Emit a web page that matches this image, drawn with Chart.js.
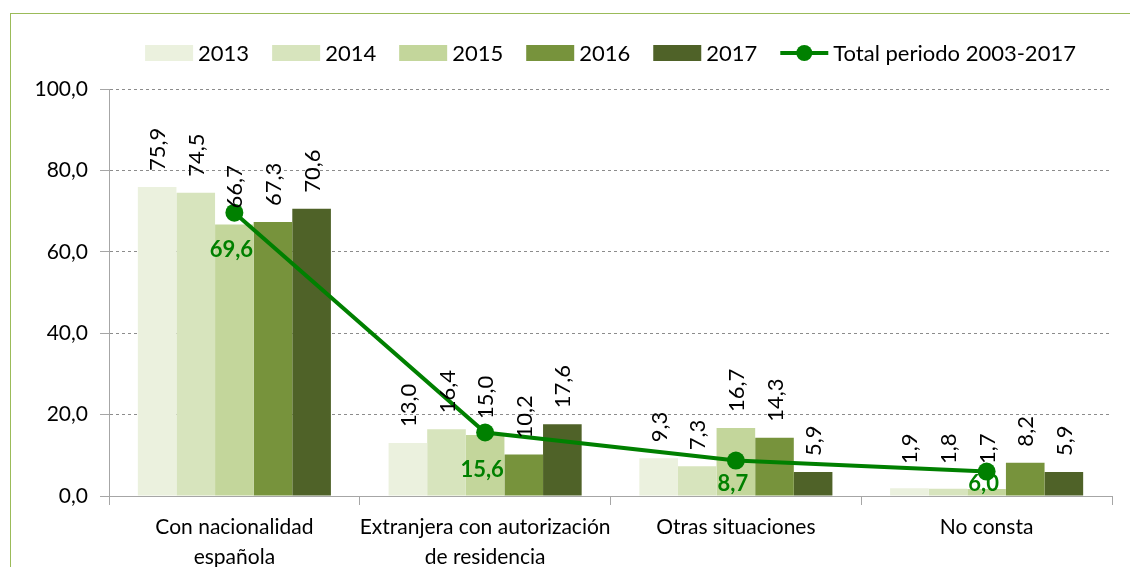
<!DOCTYPE html>
<html>
<head>
<meta charset="utf-8">
<script src="https://cdn.jsdelivr.net/npm/chart.js@4.4.1/dist/chart.umd.min.js"></script>
<style>
  html,body{margin:0;padding:0;background:#fff;overflow:hidden;}
  #wrap{position:relative;width:1130px;height:567px;}
  #frame{position:absolute;left:10px;top:13px;width:1200px;height:700px;border:1px solid #9BBB59;box-sizing:border-box;}
  #c{position:absolute;left:0;top:0;}
</style>
</head>
<body>
<div id="wrap">
  <div id="frame"></div>
  <canvas id="c" width="1130" height="567"></canvas>
</div>
<script>
const categories = [['Con nacionalidad','española'], ['Extranjera con autorización','de residencia'], ['Otras situaciones'], ['No consta']];
const years = ['2013','2014','2015','2016','2017'];
const v2013 = [75.9, 13.0, 9.3, 1.9];
const v2014 = [74.5, 16.4, 7.3, 1.8];
const v2015 = [66.7, 15.0, 16.7, 1.7];
const v2016 = [67.3, 10.2, 14.3, 8.2];
const v2017 = [70.6, 17.6, 5.9, 5.9];
const total = [69.6, 15.6, 8.7, 6.0];
const totalLabel = 'Total periodo 2003-2017';
const yMin = 0, yMax = 100, yStep = 20;

const barColors = ['#EBF1DE', '#D7E4BD', '#C3D69B', '#77933C', '#4F6228'];
const lineColor = '#008000';
const FONT = 'Lato, "Open Sans", sans-serif';
const fmt = v => Number(v).toFixed(1).replace('.', ',');

const barSeries = [v2013, v2014, v2015, v2016, v2017];

const valueLabels = {
  id: 'valueLabels',
  afterDatasetsDraw(chart) {
    const ctx = chart.ctx;
    chart.data.datasets.forEach((ds, i) => {
      const meta = chart.getDatasetMeta(i);
      if (ds.type === 'line') {
        ctx.save();
        ctx.fillStyle = lineColor;
        ctx.font = 'bold 22px ' + FONT;
        ctx.textAlign = 'center';
        ctx.textBaseline = 'middle';
        meta.data.forEach((el, j) => {
          const y = Math.min(el.y + 37, 484);
          ctx.fillText(fmt(ds.data[j]), el.x - 3, y);
        });
        ctx.restore();
      } else {
        ctx.save();
        ctx.fillStyle = '#000';
        ctx.font = '22px ' + FONT;
        ctx.textAlign = 'left';
        ctx.textBaseline = 'middle';
        meta.data.forEach((el, j) => {
          const y = Math.min(el.y - 16, 464);
          ctx.save();
          ctx.translate(el.x, y);
          ctx.rotate(-Math.PI / 2);
          ctx.fillText(fmt(ds.data[j]), 0, 1);
          ctx.restore();
        });
        ctx.restore();
      }
    });
  }
};

const customLegend = {
  id: 'customLegend',
  afterDraw(chart) {
    const ctx = chart.ctx;
    ctx.save();
    ctx.font = '22px ' + FONT;
    ctx.textBaseline = 'middle';
    ctx.textAlign = 'left';
    const boxW = 48, boxH = 16, gap = 5, spacing = 23, cy = 53;
    const items = chart.data.datasets.map(ds => ({label: ds.label, ds}));
    let totalW = 0;
    items.forEach(it => { it.w = boxW + gap + ctx.measureText(it.label).width; totalW += it.w; });
    totalW += spacing * (items.length - 1);
    const area = chart.chartArea;
    let x = (area.left + area.right) / 2 - totalW / 2;
    items.forEach(it => {
      if (it.ds.type === 'line') {
        ctx.strokeStyle = lineColor;
        ctx.lineWidth = 4;
        ctx.beginPath();
        ctx.moveTo(x, cy);
        ctx.lineTo(x + boxW, cy);
        ctx.stroke();
        ctx.fillStyle = lineColor;
        ctx.beginPath();
        ctx.arc(x + boxW / 2, cy, 8, 0, Math.PI * 2);
        ctx.fill();
      } else {
        ctx.fillStyle = it.ds.backgroundColor;
        ctx.fillRect(x, cy - boxH / 2, boxW, boxH);
      }
      ctx.fillStyle = '#000';
      ctx.fillText(it.label, x + boxW + gap, cy + 1);
      x += it.w + spacing;
    });
    ctx.restore();
  }
};

function build() {
  const datasets = [{
    type: 'line',
    label: totalLabel,
    data: total,
    borderColor: lineColor,
    backgroundColor: lineColor,
    borderWidth: 4,
    pointRadius: 9,
    pointHoverRadius: 9,
    pointBackgroundColor: lineColor,
    pointBorderWidth: 0,
    order: 0
  }];
  years.forEach((y, i) => {
    datasets.push({
      type: 'bar',
      label: y,
      data: barSeries[i],
      backgroundColor: barColors[i],
      borderWidth: 0,
      categoryPercentage: 0.77,
      barPercentage: 1.0,
      order: 1
    });
  });
  const ordered = datasets.slice(1).concat([datasets[0]]);

  new Chart(document.getElementById('c'), {
    data: { labels: categories, datasets: ordered },
    options: {
      responsive: false,
      animation: false,
      layout: { padding: { top: 89, right: 18, left: 0, bottom: 0 } },
      plugins: { legend: { display: false }, tooltip: { enabled: false } },
      scales: {
        x: {
          afterFit: s => { s.height = 71; },
          grid: { offset: true, drawOnChartArea: false, tickLength: 9, color: '#A6A6A6', lineWidth: 1 },
          border: { color: '#A6A6A6', width: 1 },
          ticks: { color: '#000', font: { family: FONT, size: 21, lineHeight: 1.4 }, padding: 8, maxRotation: 0, autoSkip: false }
        },
        y: {
          min: yMin, max: yMax,
          afterFit: s => { s.width = 109; },
          grid: {
            color: c => (c.tick && c.tick.value === 0) ? 'rgba(0,0,0,0)' : '#8C8C8C',
            tickColor: '#A6A6A6',
            tickLength: 9,
            tickBorderDash: [],
            lineWidth: 1
          },
          border: { color: '#A6A6A6', width: 1, dash: [3, 3] },
          ticks: { stepSize: yStep, color: '#000', font: { family: FONT, size: 21 }, padding: 12, callback: v => fmt(v) }
        }
      }
    },
    plugins: [valueLabels, customLegend]
  });
}

if (document.fonts && document.fonts.load) {
  Promise.all([document.fonts.load('21px Lato'), document.fonts.load('bold 22px Lato'), document.fonts.load('22px Lato')]).then(build, build);
} else { build(); }
</script>
</body>
</html>
